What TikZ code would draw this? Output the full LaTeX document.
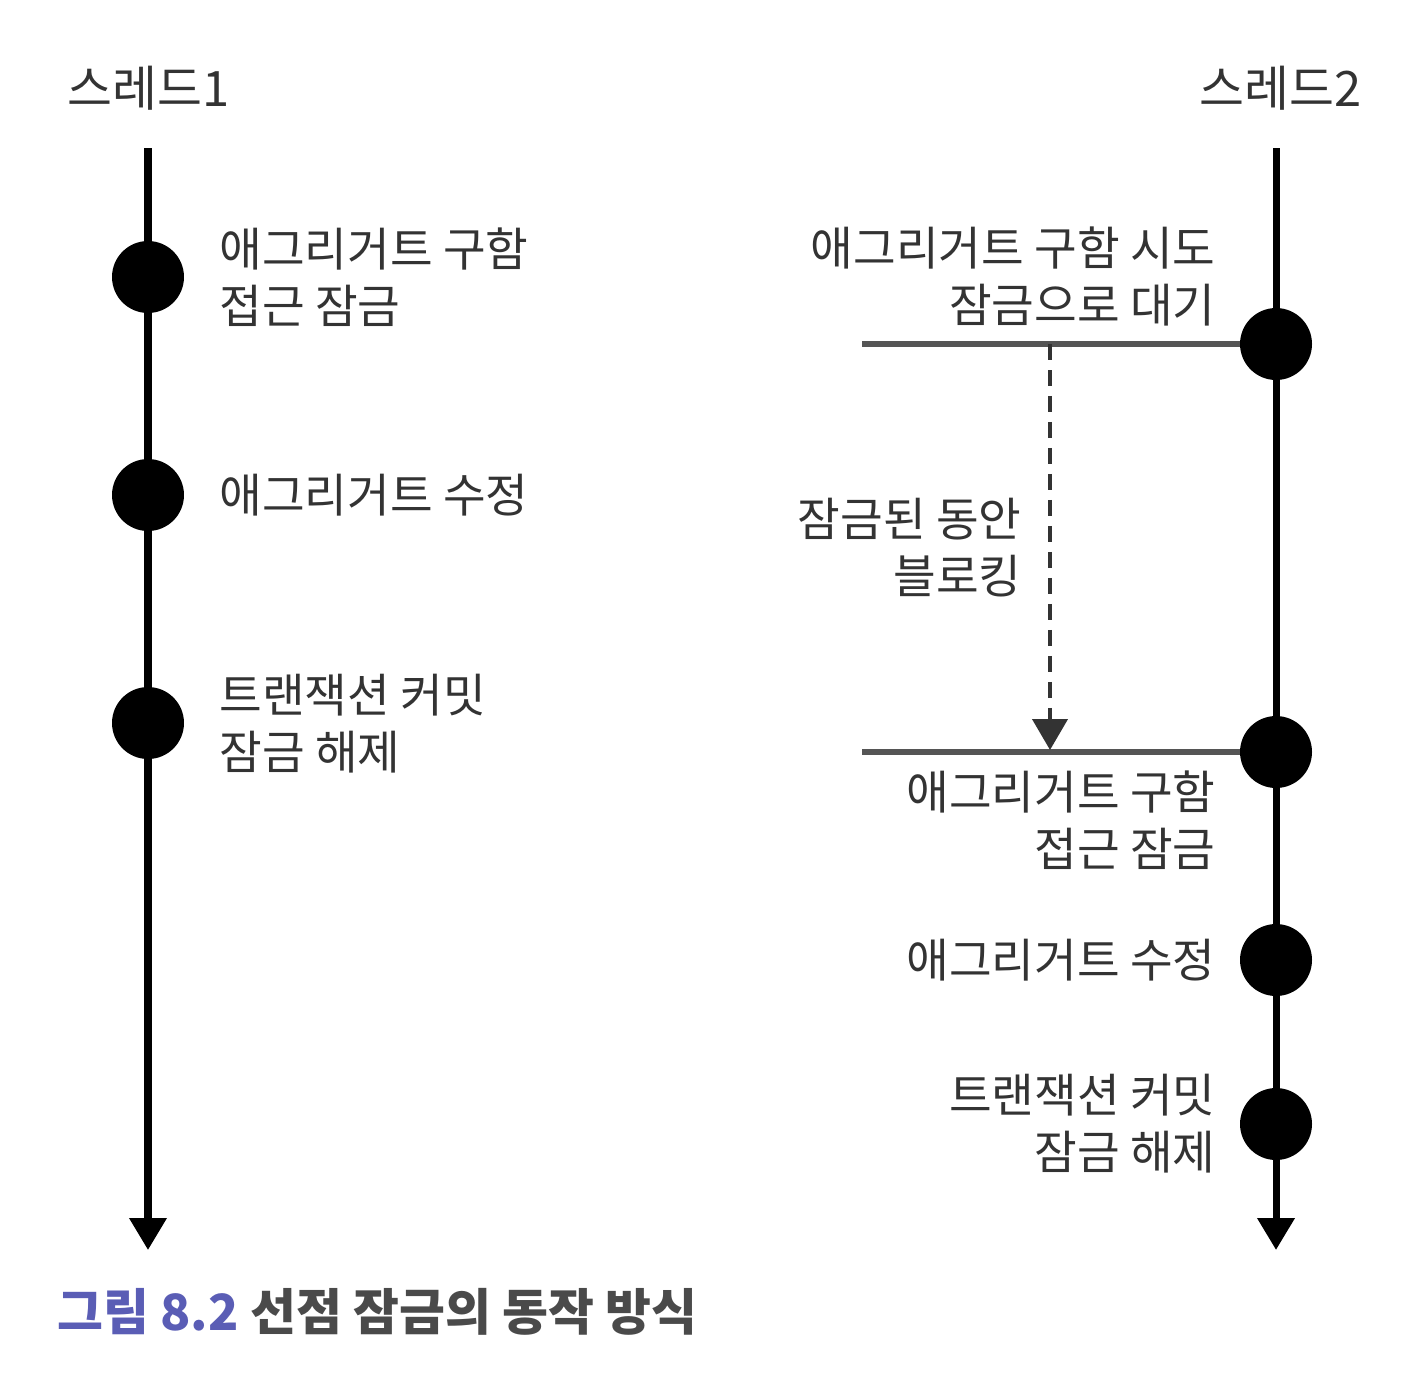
\documentclass[tikz,border=0pt]{standalone}
\usepackage{fontspec}
\setmainfont{Noto Sans CJK KR}
\usetikzlibrary{arrows.meta}
\definecolor{txt}{HTML}{333333}
\definecolor{capblue}{HTML}{5A5DB5}
\definecolor{capgray}{HTML}{4A4A4A}
\definecolor{lockgray}{HTML}{555555}
\begin{document}
\begin{tikzpicture}[x=0.02cm,y=-0.02cm,
  dot/.style={circle, fill=black, minimum size=1.44cm, inner sep=0pt},
  lbl/.style={font=\fontsize{26.4}{32.4}\selectfont, text=txt, inner sep=0pt},
  lblL/.style={lbl, anchor=west, align=left},
  lblR/.style={lbl, anchor=east, align=right},
  ttl/.style={font=\fontsize{27.8}{30}\selectfont, text=txt, inner sep=0pt},
  timeline/.style={line width=4pt, draw=black, -{Triangle[width=0.72cm,length=0.64cm]}},
  lockline/.style={line width=3.2pt, draw=lockgray},
  waitline/.style={line width=2.4pt, draw=txt, dash pattern=on 0.32cm off 0.2cm, -{Triangle[width=0.7cm,length=0.62cm]}}
]
\path[use as bounding box] (0,0) rectangle (1412,1376);

% titles
\node[ttl, anchor=west] (th1) at (67,88) {스레드1};
\node[ttl, anchor=east] (th2) at (1362,88) {스레드2};

% timelines
\coordinate (l1top) at (148,148);
\coordinate (l1end) at (148,1250);
\coordinate (l2top) at (1276,148);
\coordinate (l2end) at (1276,1250);
\draw[timeline] (l1top) -- (l1end);
\draw[timeline] (l2top) -- (l2end);

% thread 1 events
\node[dot] (a1) at (148,277) {};
\node[dot] (a2) at (148,495) {};
\node[dot] (a3) at (148,723) {};
\node[lblL] (ta1) at (219,277) {애그리거트 구함\\접근 잠금};
\node[lblL] (ta2) at (219,495) {애그리거트 수정};
\node[lblL] (ta3) at (219,724) {트랜잭션 커밋\\잠금 해제};

% thread 2 events
\node[dot] (b1) at (1276,344) {};
\node[dot] (b2) at (1276,752) {};
\node[dot] (b3) at (1276,960) {};
\node[dot] (b4) at (1276,1124) {};
\node[lblR] (tb1) at (1216,276) {애그리거트 구함 시도\\잠금으로 대기};
\node[lblR] (tw) at (1022,548) {잠금된 동안\\블로킹};
\node[lblR] (tb2) at (1216,820) {애그리거트 구함\\접근 잠금};
\node[lblR] (tb3) at (1216,960) {애그리거트 수정};
\node[lblR] (tb4) at (1216,1124) {트랜잭션 커밋\\잠금 해제};

% lock wait lines
\coordinate (w1) at (862,344);
\coordinate (w2) at (862,752);
\draw[lockline] (w1) -- (b1);
\draw[lockline] (w2) -- (b2);
\coordinate (ws) at (1050,344);
\coordinate (we) at (1050,750);
\draw[waitline] (ws) -- (we);

% caption
\node[inner sep=0pt, anchor=west, font=\fontsize{28.4}{30}\selectfont\bfseries] (cap) at (57,1312)
  {\textcolor{capblue}{그림 8.2} \textcolor{capgray}{선점 잠금의 동작 방식}};
\end{tikzpicture}
\end{document}
